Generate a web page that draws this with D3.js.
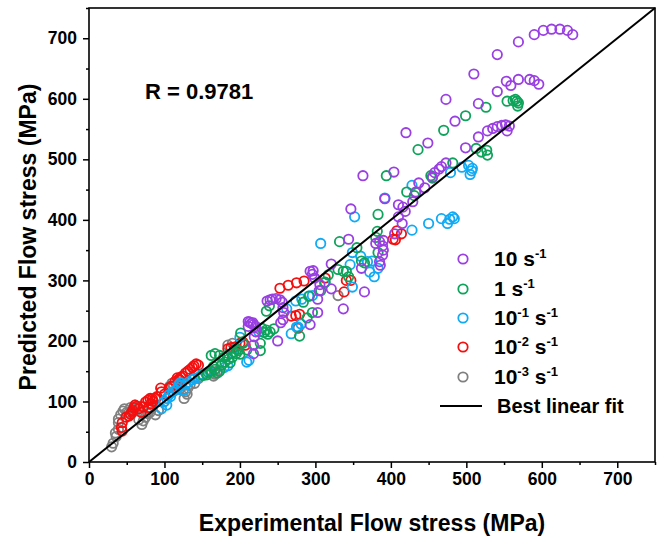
<!DOCTYPE html>
<html>
<head>
<meta charset="utf-8">
<script src="https://cdn.jsdelivr.net/npm/d3@7"></script>
<style>
  body { margin: 0; background: #fff; }
  text { font-family: "Liberation Sans", Arial, sans-serif; font-weight: bold; }
</style>
</head>
<body>
<svg id="chart" width="660" height="536"></svg>
<script>
// ---- Data (MPa): [experimental, predicted] ----
const rate10 = [
  [590,706],[602,713],[613,715],[624,715],[634,713],[641,706],[569,694],[541,673],[510,641],
  [584,632],[590,630],[596,624],[569,632],[553,629],[559,622],[541,612],[473,599],[516,592],
  [485,563],[420,544],[516,537],[528,547],[535,551],[541,554],[547,556],[552,557],[557,555],[554,547],
  [449,527],[499,519],[473,494],[467,488],[464,484],[458,478],[455,471],[404,479],[363,473],
  [437,461],[445,453],[433,446],[392,435],[410,425],[416,421],[419,414],[410,405],[415,394],[429,430],
  [347,418],[344,368],[405,377],[380,361],[385,364],[390,366],[389,357],[390,350],[389,342],[386,325],[385,331],
  [361,320],[365,281],[337,253],[321,327],[293,315],[296,310],[299,304],[306,293],[305,283],[303,269],[303,247],
  [321,286],[293,227],[236,266],[243,269],[248,270],[253,268],[256,264],[257,255],[258,247],[257,235],
  [254,230],[250,200],[211,232],[213,231],[215,229],[217,230],[218,227],[221,224],[221,215],[219,207],[218,193],[218,179],[211,224],
  [297,316],[240,268]
];
const rate1 = [
  [554,596],[562,597],[565,599],[567,596],[569,593],[568,588],[526,586],[499,572],[470,548],[436,516],
  [482,494],[453,473],[394,473],[513,518],[520,512],[527,515],[528,507],[421,446],[431,440],[433,445],
  [383,409],[455,469],[382,381],[380,371],[383,346],[332,364],[355,354],[361,332],[365,329],
  [330,318],[337,315],[341,315],[344,306],[317,309],[313,297],[307,283],[292,274],[284,264],
  [289,238],[296,247],[279,208],[239,258],[235,249],[229,221],[235,218],[240,215],[237,211],[227,196],[227,184],
  [201,213],[204,196],[198,184],[195,179],[190,173],[167,179],[173,176],[179,173],[185,170],[187,164],
  [162,176],[162,150],[156,144],[151,143],[167,153],[170,147],[173,150],[209,185],[200,178],[180,165],
  [192,182],[196,186],[183,176],[176,160],[158,148],[165,158],[245,220],[232,214]
];
const rate01 = [
  [494,487],[503,490],[508,485],[507,481],[505,475],[479,478],[428,457],[392,436],[352,405],
  [450,394],[467,402],[475,394],[478,401],[482,405],[484,402],[428,383],[307,361],
  [349,346],[346,326],[369,331],[375,332],[372,314],[378,306],[383,320],[349,289],
  [274,266],[282,269],[291,274],[296,275],[281,228],[277,223],[268,212],[212,168],[200,206],[209,165],
  [184,159],[179,156],[137,136],[117,122],[111,116],[106,111],[103,105],[99,99],[96,88],[103,94],[128,128],
  [122,126],[125,118],[145,140],[150,145],[160,150],[275,223],[262,253],[312,296],
  [119,128],[121,131],[115,119],[108,108],[132,132],[140,138],[155,147],[190,180],[225,215],[360,340]
];
const rate001 = [
  [408,382],[414,377],[406,367],[403,368],[341,300],[347,300],[338,281],
  [253,287],[264,292],[275,296],[285,299],[313,304],[268,241],[274,242],[279,244],[277,221],
  [200,196],[204,198],[207,193],[193,190],[184,187],
  [142,162],[139,159],[137,156],[134,153],[131,150],[128,147],[124,142],
  [117,139],[114,133],[109,125],[106,122],[95,122],[96,116],
  [81,105],[78,102],[75,99],[72,91],[69,82],[61,94],[58,85],[55,79],
  [49,74],[44,65],[43,57],[44,51],[66,88],[85,100],[90,108],[120,135],[100,112],
  [60,90],[63,92],[57,82],[53,76],[84,104],[82,96],[79,90],[88,105],[119,137],[122,140],[145,160],[188,189]
];
const rate0001 = [
  [330,275],[162,147],[167,145],[170,150],[165,142],[134,128],[131,122],[128,116],[126,105],
  [110,130],[107,125],[83,88],[81,82],[75,74],[72,68],[61,94],[58,88],[53,82],
  [39,71],[39,65],[39,54],[36,42],[32,31],[30,25],[47,88],[50,82],
  [184,193],[140,130],[145,138],[120,120],[92,85],[88,78],[65,90],[100,100],[35,48],
  [42,78],[45,84],[55,90],[68,92],[70,62],[66,70],[78,80],[112,126],[130,112],[175,160],[190,196]
];
const seriesColors = ["#9a3fe3", "#0ea35a", "#10aaf5", "#f50f0f", "#808080"];
const xTicks = [0, 100, 200, 300, 400, 500, 600, 700];
const yTicks = [0, 100, 200, 300, 400, 500, 600, 700];
const rValue = "R = 0.9781";

// ---- Layout ----
const svg = d3.select("#chart");
const L = 89, R = 655, T = 8, B = 462;
const x = d3.scaleLinear().domain([0, 750]).range([L, R]);
const y = d3.scaleLinear().domain([0, 750]).range([B, T]);

const xAxis = d3.axisBottom(x).tickValues(xTicks).tickSize(6).tickPadding(5).tickFormat(d3.format("d"));
const xMinor = d3.axisBottom(x).tickValues(d3.range(50, 751, 100)).tickSize(3).tickFormat("");
const yAxis = d3.axisLeft(y).tickValues(yTicks).tickSize(6).tickPadding(6).tickFormat(d3.format("d"));
const yMinor = d3.axisLeft(y).tickValues(d3.range(50, 751, 100)).tickSize(3).tickFormat("");

function styleAxis(g) {
  g.select(".domain").remove();
  g.selectAll("line").attr("stroke", "#000").attr("stroke-width", 1.5);
  g.selectAll("text").attr("fill", "#000").style("font-size", "17.5px").style("font-weight", "bold")
    .style("font-family", "'Liberation Sans', Arial, sans-serif");
}
svg.append("g").attr("transform", `translate(0,${B})`).call(xAxis).call(styleAxis);
svg.append("g").attr("transform", `translate(0,${B})`).call(xMinor).call(styleAxis);
svg.append("g").attr("transform", `translate(${L},0)`).call(yAxis).call(styleAxis);
svg.append("g").attr("transform", `translate(${L},0)`).call(yMinor).call(styleAxis);

// Points: gray first, purple last
const all = [rate10, rate1, rate01, rate001, rate0001];
const plot = svg.append("g");
for (let i = all.length - 1; i >= 0; i--) {
  plot.append("g").selectAll("circle").data(all[i]).join("circle")
    .attr("cx", d => x(d[0])).attr("cy", d => y(d[1])).attr("r", 4.7)
    .attr("fill", "none").attr("stroke", seriesColors[i]).attr("stroke-width", 1.8);
}

// Best linear fit (y = x)
svg.append("line").attr("x1", x(0)).attr("y1", y(0)).attr("x2", x(750)).attr("y2", y(750))
  .attr("stroke", "#000").attr("stroke-width", 2);

// Frame
svg.append("rect").attr("x", L).attr("y", T).attr("width", R - L).attr("height", B - T)
  .attr("fill", "none").attr("stroke", "#000").attr("stroke-width", 1.6);

// Titles
svg.append("text").attr("x", (L + R) / 2).attr("y", 531).attr("text-anchor", "middle")
  .style("font-size", "23px").text("Experimental Flow stress (MPa)");
svg.append("text").attr("transform", `translate(36,237) rotate(-90)`).attr("text-anchor", "middle")
  .style("font-size", "23px").text("Predicted Flow stress (MPa)");
svg.append("text").attr("x", 145).attr("y", 99).style("font-size", "22px").text(rValue);

// Legend
const legY = [259, 289, 318, 347, 377];
const legParts = [["10 s", "-1"], ["1 s", "-1"], ["10", "-1", " s", "-1"], ["10", "-2", " s", "-1"], ["10", "-3", " s", "-1"]];
const leg = svg.append("g");
legY.forEach((ly, i) => {
  leg.append("circle").attr("cx", 463).attr("cy", ly).attr("r", 4.7).attr("fill", "none")
    .attr("stroke", seriesColors[i]).attr("stroke-width", 1.8);
  const t = leg.append("text").attr("x", 494).attr("y", ly + 7).style("font-size", "21px");
  const p = legParts[i];
  t.append("tspan").text(p[0]);
  t.append("tspan").attr("dy", -8).style("font-size", "13px").text(p[1]);
  if (p[2]) {
    t.append("tspan").attr("dy", 8).style("font-size", "21px").text(p[2]);
    t.append("tspan").attr("dy", -8).style("font-size", "13px").text(p[3]);
  }
});
leg.append("line").attr("x1", 440).attr("x2", 482).attr("y1", 406).attr("y2", 406)
  .attr("stroke", "#000").attr("stroke-width", 2);
leg.append("text").attr("x", 497).attr("y", 413).style("font-size", "20px").text("Best linear fit");
</script>
</body>
</html>
